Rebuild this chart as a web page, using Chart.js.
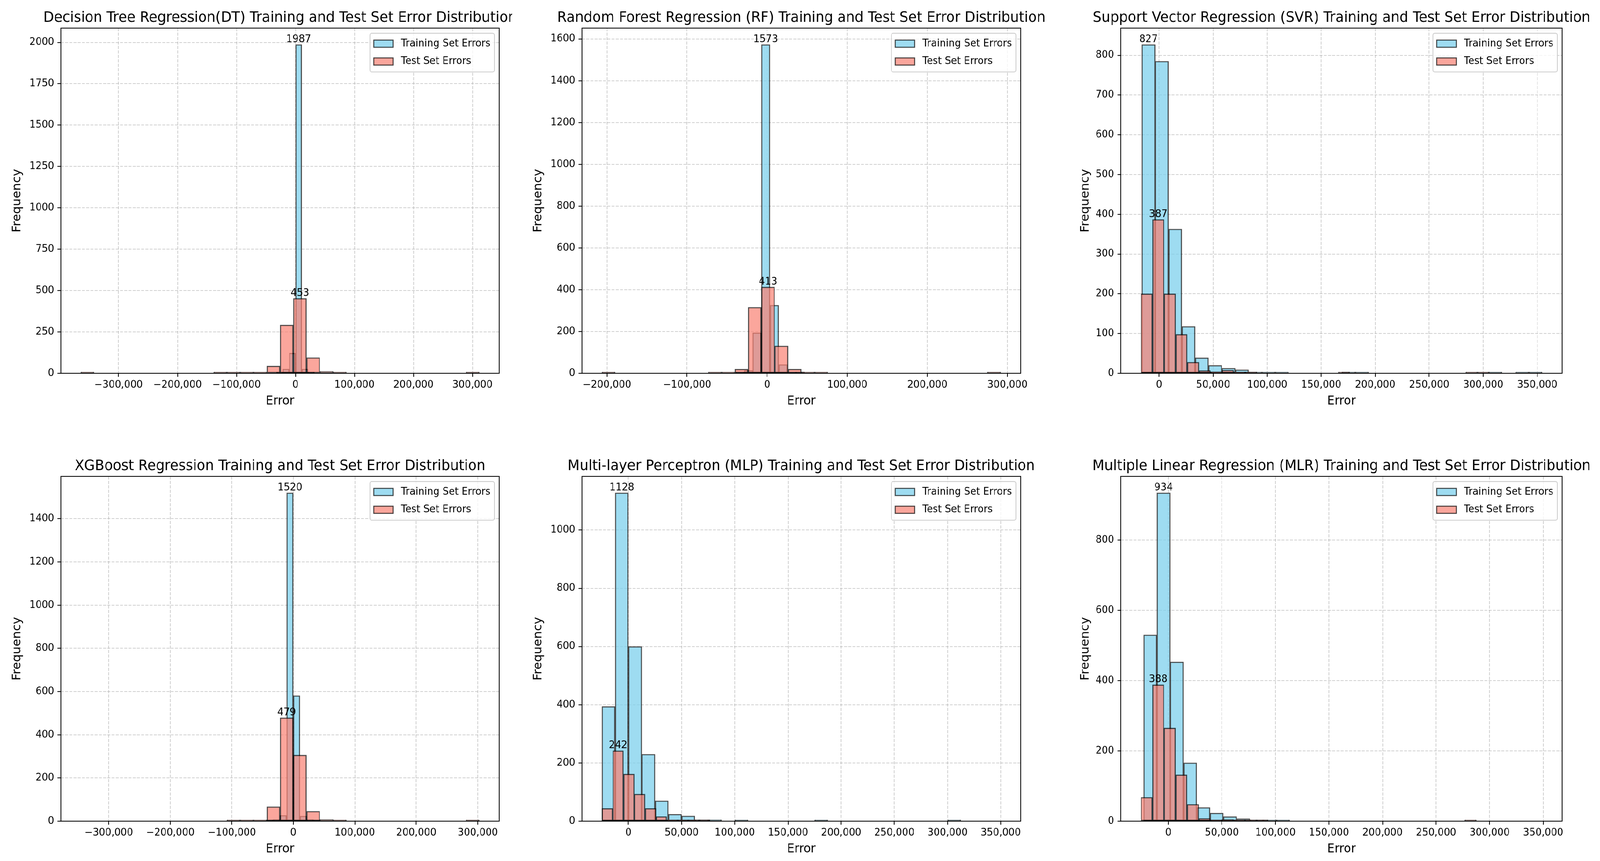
<!DOCTYPE html>
<html>
<head>
<meta charset="utf-8">
<title>Training and Test Set Error Distribution</title>
<script src="https://cdn.jsdelivr.net/npm/chart.js@4.4.1/dist/chart.umd.min.js"></script>
<style>
  html, body { margin: 0; padding: 0; background: #fff; overflow: hidden; }
  #stage { position: absolute; left: 0; top: 0; width: 4314px; height: 2205px; transform-origin: 0 0; }
  .panel { position: absolute; }
</style>
</head>
<body>
<div id="stage">
  <div class="panel" id="p0"><canvas id="c0"></canvas></div>
  <div class="panel" id="p1"><canvas id="c1"></canvas></div>
  <div class="panel" id="p2"><canvas id="c2"></canvas></div>
  <div class="panel" id="p3"><canvas id="c3"></canvas></div>
  <div class="panel" id="p4"><canvas id="c4"></canvas></div>
  <div class="panel" id="p5"><canvas id="c5"></canvas></div>
</div>
<script>
// ---- data (30 bins per series) ----
const titles = [
  'Decision Tree Regression(DT) Training and Test Set Error Distribution',
  'Random Forest Regression (RF) Training and Test Set Error Distribution',
  'Support Vector Regression (SVR) Training and Test Set Error Distribution',
  'XGBoost Regression Training and Test Set Error Distribution',
  'Multi-layer Perceptron (MLP) Training and Test Set Error Distribution',
  'Multiple Linear Regression (MLR) Training and Test Set Error Distribution'
];
const seriesLabels = ['Training Set Errors', 'Test Set Errors'];

// first bin edge and bin width of each histogram
const trainBinStart = [-160500, -169200, -16000, -163500, -25000, -23000];
const trainBinWidth = [10700, 10800, 12350, 10900, 12500, 12400];
const testBinStart  = [-364000, -206400, -16900, -345600, -25000, -25600];
const testBinWidth  = [22520, 16600, 10740, 21600, 10170, 10800];

const dtTrain  = [0,0,0,0,0,0,0,0,0,0,0,0,3,26,122,1987,26,5,0,0,0,0,0,0,0,0,0,0,0,0];
const dtTest   = [2,0,0,0,0,0,0,0,0,0,1,1,3,6,44,292,453,95,12,2,0,0,0,0,0,0,0,0,0,2];
const rfTrain  = [0,0,0,0,0,0,0,0,0,0,0,0,2,14,194,1573,326,42,6,2,0,0,0,0,0,0,0,0,0,0];
const rfTest   = [1,0,0,0,0,0,0,0,2,4,20,316,413,131,20,4,2,0,0,0,0,0,0,0,0,0,0,0,0,1];
const svrTrain = [827,785,363,118,39,20,13,9,3,1,1,0,0,0,0,1,1,0,0,0,0,0,0,0,0,0,1,0,1,1];
const svrTest  = [200,387,200,98,28,7,4,8,2,1,0,0,0,0,0,0,0,1,0,0,0,0,0,0,0,0,0,0,1,1];
const xgbTrain = [0,0,0,0,0,0,0,0,0,0,0,2,8,27,1520,581,24,8,2,0,0,0,0,0,0,0,0,0,0,0];
const xgbTest  = [0,0,0,0,0,0,0,0,0,0,0,2,1,5,67,479,306,46,8,1,0,0,0,0,0,0,0,0,0,1];
const mlpTrain = [394,1128,600,230,70,24,18,5,5,0,1,0,0,0,0,0,1,0,0,0,0,0,0,0,0,0,1,0,0,0];
const mlpTest  = [44,242,162,93,44,16,4,2,1,1,0,0,0,0,0,0,0,0,0,0,0,0,0,0,0,0,0,0,0,0];
const mlrTrain = [530,934,453,166,39,23,13,7,3,2,1,0,0,0,0,0,0,0,0,0,0,0,0,0,0,0,0,0,0,0];
const mlrTest  = [68,388,265,132,48,8,2,5,2,3,1,0,0,0,0,0,0,0,0,0,0,0,0,0,0,0,0,0,1,0];

const trainCounts = [dtTrain, rfTrain, svrTrain, xgbTrain, mlpTrain, mlrTrain];
const testCounts  = [dtTest, rfTest, svrTest, xgbTest, mlpTest, mlrTest];

const xTickStep = [100000, 100000, 50000, 100000, 50000, 50000];
const yTickStep = [250, 200, 100, 200, 200, 200];

// ---- layout (page pixels) ----
const colCanvasLeft  = [0, 1405, 2858];
const colCanvasRight = [1381, 2850, 4314];
const colAxesRight   = [1346, 2752, 4212];
const yAxisWidth = 164;
const yTitlePad  = [28, 28, 50];
const rowCanvasTop    = [0, 1140];
const rowAxesTop      = [72, 1220];
const rowCanvasBottom = [1056, 2203];
const xAxisHeight = 100;

// ---- styles ----
const FONT = "'DejaVu Sans', sans-serif";
const trainFill = 'rgba(125, 208, 236, 0.75)';
const testFill  = 'rgba(250, 128, 114, 0.7)';
const edgeColor = 'rgba(0, 0, 0, 0.7)';
const gridColor = 'rgba(176, 176, 176, 0.6)';

// stretch the 4314x2205 stage over the viewport we actually get
const stage = document.getElementById('stage');
stage.style.transform = `scale(${window.innerWidth / 4314}, ${window.innerHeight / 2205})`;

const fmtX = v => {
  const n = Math.round(v);
  return (n < 0 ? '\u2212' : '') + Math.abs(n).toLocaleString('en-US');
};

// empty bins draw nothing, like matplotlib
function binPoints(start, width, counts) {
  return counts.map((c, i) => ({ x: start + width * (i + 0.5), y: c > 0 ? c : null }));
}

// ticks at multiples of step inside the axis range
function stepTicks(step) {
  return s => {
    const ticks = [];
    for (let k = Math.ceil(s.min / step); k * step <= s.max; k++) ticks.push({ value: k * step });
    s.ticks = ticks;
  };
}

// title, frame, legend and peak labels
const panelDecor = {
  id: 'panelDecor',
  afterDraw(chart, args, opts) {
    const { ctx, chartArea: ca } = chart;
    ctx.save();

    // peak count labels
    ctx.fillStyle = '#000';
    ctx.font = `26.25px ${FONT}`;
    ctx.textAlign = 'center';
    ctx.textBaseline = 'bottom';
    chart.data.datasets.forEach((ds, i) => {
      const ys = ds.data.map(d => d.y || 0);
      const k = ys.indexOf(Math.max(...ys));
      const el = chart.getDatasetMeta(i).data[k];
      ctx.fillText(String(ys[k]), el.x, el.y);
    });

    // axes frame
    ctx.strokeStyle = '#000';
    ctx.lineWidth = 2.1;
    ctx.strokeRect(ca.left, ca.top, ca.right - ca.left, ca.bottom - ca.top);

    // title
    ctx.font = `37.3px ${FONT}`;
    ctx.textBaseline = 'alphabetic';
    ctx.fillText(opts.title, (ca.left + ca.right) / 2, ca.top - 15.75);

    // legend in the upper right corner
    const fs = 26.25;
    ctx.font = `${fs}px ${FONT}`;
    const tw = Math.max(...seriesLabels.map(s => ctx.measureText(s).width));
    const pad = 0.4 * fs, hw = 2 * fs, hh = 0.7 * fs, gap = 0.8 * fs, rowH = 32.5, sp = 0.5 * fs;
    const bw = pad * 2 + hw + gap + tw;
    const bh = pad * 2 + rowH * 2 + sp;
    const bx = ca.right - 0.5 * fs - bw;
    const by = ca.top + 0.5 * fs;
    const r = 5;
    ctx.beginPath();
    ctx.moveTo(bx + r, by);
    ctx.arcTo(bx + bw, by, bx + bw, by + bh, r);
    ctx.arcTo(bx + bw, by + bh, bx, by + bh, r);
    ctx.arcTo(bx, by + bh, bx, by, r);
    ctx.arcTo(bx, by, bx + bw, by, r);
    ctx.closePath();
    ctx.fillStyle = 'rgba(255,255,255,0.8)';
    ctx.fill();
    ctx.strokeStyle = '#cccccc';
    ctx.lineWidth = 2.1;
    ctx.stroke();
    chart.data.datasets.forEach((ds, i) => {
      const cy = by + pad + rowH / 2 + i * (rowH + sp);
      ctx.fillStyle = ds.backgroundColor;
      ctx.fillRect(bx + pad, cy - hh / 2, hw, hh);
      ctx.strokeStyle = edgeColor;
      ctx.lineWidth = 2.6;
      ctx.strokeRect(bx + pad, cy - hh / 2, hw, hh);
      ctx.fillStyle = '#000';
      ctx.textAlign = 'left';
      ctx.textBaseline = 'middle';
      ctx.fillText(ds.label, bx + pad + hw + gap, cy);
    });

    ctx.restore();
  }
};

function makePanel(i) {
  const row = Math.floor(i / 3), col = i % 3;
  const box = document.getElementById('p' + i);
  box.style.left = colCanvasLeft[col] + 'px';
  box.style.top = rowCanvasTop[row] + 'px';
  box.style.width = (colCanvasRight[col] - colCanvasLeft[col]) + 'px';
  box.style.height = (rowCanvasBottom[row] - rowCanvasTop[row]) + 'px';

  const trainEnd = trainBinStart[i] + trainBinWidth[i] * trainCounts[i].length;
  const testEnd = testBinStart[i] + testBinWidth[i] * testCounts[i].length;
  const lo = Math.min(trainBinStart[i], testBinStart[i]);
  const hi = Math.max(trainEnd, testEnd);
  const xMin = lo - 0.05 * (hi - lo);
  const xMax = hi + 0.05 * (hi - lo);
  const yMax = 1.05 * Math.max(...trainCounts[i], ...testCounts[i]);

  const gridOpts = {
    offset: false, color: gridColor, lineWidth: 2.1,
    drawTicks: true, tickLength: 9, tickColor: '#000', tickWidth: 2.1
  };
  const tickFont = { family: FONT, size: 26.25 };
  const titleFont = { family: FONT, size: 31.5 };
  const barStyle = {
    borderColor: edgeColor, borderWidth: 2.6, borderSkipped: false, minBarLength: 3.5,
    grouped: false, barPercentage: 1, categoryPercentage: 1
  };

  new Chart(document.getElementById('c' + i), {
    type: 'bar',
    data: {
      datasets: [
        Object.assign({
          label: seriesLabels[0],
          data: binPoints(trainBinStart[i], trainBinWidth[i], trainCounts[i]),
          xAxisID: 'x', backgroundColor: trainFill, order: 2
        }, barStyle),
        Object.assign({
          label: seriesLabels[1],
          data: binPoints(testBinStart[i], testBinWidth[i], testCounts[i]),
          xAxisID: 'x2', backgroundColor: testFill, order: 1
        }, barStyle)
      ]
    },
    options: {
      responsive: true,
      maintainAspectRatio: false,
      animation: false,
      layout: {
        padding: {
          left: 0,
          top: rowAxesTop[row] - rowCanvasTop[row],
          right: colCanvasRight[col] - colAxesRight[col],
          bottom: 0
        }
      },
      scales: {
        x: {
          type: 'linear', position: 'bottom', min: xMin, max: xMax, offset: false, z: 1,
          grid: gridOpts,
          border: { display: false, dash: [8, 3.4] },
          ticks: {
            autoSkip: false, maxRotation: 0, minRotation: 0, padding: 5,
            color: '#000', font: tickFont, callback: v => fmtX(v)
          },
          afterBuildTicks: stepTicks(xTickStep[i]),
          title: { display: true, text: 'Error', color: '#000', font: titleFont, padding: { top: 0, bottom: 9 } },
          afterFit: s => { s.height = xAxisHeight; }
        },
        x2: {
          type: 'linear', position: 'bottom', display: false, min: xMin, max: xMax, offset: false,
          grid: { offset: false },
          afterBuildTicks: stepTicks(xTickStep[i])
        },
        y: {
          type: 'linear', position: 'left', min: 0, max: yMax, z: 1,
          grid: gridOpts,
          border: { display: false, dash: [8, 3.4] },
          ticks: {
            autoSkip: false, padding: 9, color: '#000', font: tickFont,
            callback: v => String(Math.round(v))
          },
          afterBuildTicks: stepTicks(yTickStep[i]),
          title: { display: true, text: 'Frequency', color: '#000', font: titleFont, padding: { top: yTitlePad[col], bottom: 0 } },
          afterFit: s => { s.width = yAxisWidth; }
        }
      },
      plugins: {
        legend: { display: false },
        tooltip: { enabled: false },
        panelDecor: { title: titles[i] }
      }
    },
    plugins: [panelDecor]
  });
}

for (let i = 0; i < titles.length; i++) makePanel(i);
</script>
</body>
</html>
